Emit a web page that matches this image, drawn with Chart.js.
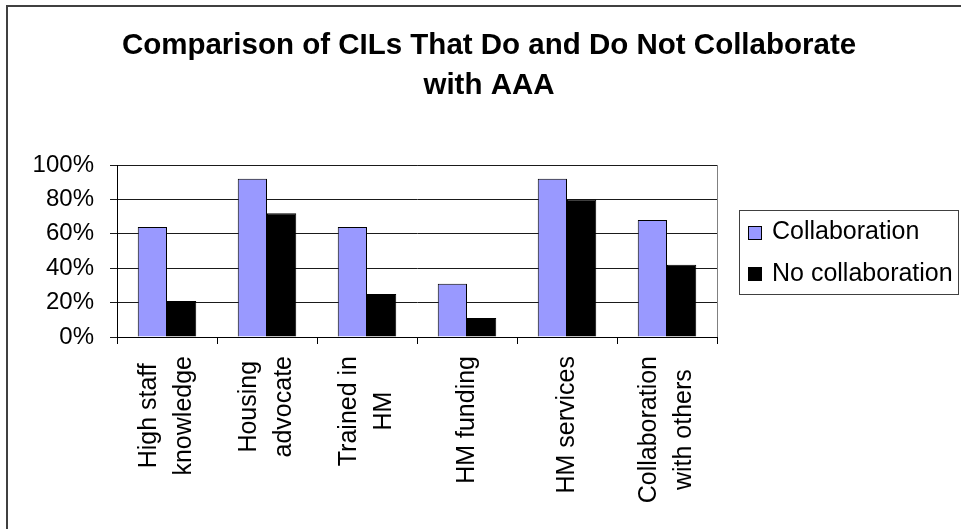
<!DOCTYPE html>
<html>
<head>
<meta charset="utf-8">
<script src="https://cdn.jsdelivr.net/npm/chart.js@4.4.1/dist/chart.umd.min.js"></script>
<style>
  html, body { margin: 0; padding: 0; background: #fff; overflow: hidden; }
  #wrap { width: 961px; height: 529px; position: relative; }
</style>
</head>
<body>
<div id="wrap"><canvas id="c" width="961" height="529"></canvas></div>
<script>
// Categories (multi-line labels) and the two series, in percent
const categories = [
  ["High staff", "knowledge"],
  ["Housing", "advocate"],
  ["Trained in", "HM"],
  ["HM funding"],
  ["HM services"],
  ["Collaboration", "with others"]
];
const seriesNames = ["Collaboration", "No collaboration"];
const collaboration = [64, 92, 64, 31, 92, 68];
const noCollaboration = [21, 72, 25, 11, 80, 42];
const yTicks = [0, 20, 40, 60, 80, 100];
const titleLines = ["Comparison of CILs That Do and Do Not Collaborate", "with AAA"];

const FONT = '"Liberation Sans", Arial, Helvetica, sans-serif';
const seriesColors = ["#9999FF", "#000000"];

// Outer frame and plot-area outline, drawn underneath everything else
const framePlugin = {
  id: 'frame',
  beforeDraw(chart) {
    const ctx = chart.ctx;
    const a = chart.chartArea;
    ctx.save();
    ctx.fillStyle = '#ffffff';
    ctx.fillRect(0, 0, chart.width, chart.height);
    ctx.strokeStyle = '#404040';
    ctx.lineWidth = 2;
    ctx.strokeRect(7, 6, chart.width + 20, chart.height + 20);
    ctx.strokeStyle = '#808080';
    ctx.lineWidth = 1;
    ctx.strokeRect(Math.round(a.left) + 0.5, Math.round(a.top) + 0.5,
                   Math.round(a.right - a.left), Math.round(a.bottom - a.top));
    ctx.restore();
  }
};

// Two-line bold title
const titlePlugin = {
  id: 'twoLineTitle',
  afterDraw(chart) {
    const ctx = chart.ctx;
    ctx.save();
    ctx.fillStyle = '#000';
    ctx.font = 'bold 29.5px ' + FONT;
    ctx.textAlign = 'center';
    ctx.textBaseline = 'alphabetic';
    const cx = 489;
    ctx.fillText(titleLines[0], cx, 54);
    ctx.fillText(titleLines[1], cx, 94);
    ctx.restore();
  }
};

// Vertical category labels with centred lines, hung below the axis
const catLabelPlugin = {
  id: 'catLabels',
  afterDraw(chart) {
    const ctx = chart.ctx;
    const xs = chart.scales.x;
    const top = chart.chartArea.bottom + 19;
    const lineGap = 35;
    ctx.save();
    ctx.fillStyle = '#000';
    ctx.font = '25px ' + FONT;
    ctx.textAlign = 'center';
    ctx.textBaseline = 'middle';
    categories.forEach((lines, i) => {
      const cx = xs.getPixelForValue(i);
      const L = Math.max(...lines.map(t => ctx.measureText(t).width));
      ctx.save();
      ctx.translate(cx, top);
      ctx.rotate(-Math.PI / 2);
      lines.forEach((t, k) => {
        const off = (k - (lines.length - 1) / 2) * lineGap;
        ctx.fillText(t, -L / 2, off);
      });
      ctx.restore();
    });
    ctx.restore();
  }
};

// Boxed legend to the right of the plot
const legendBoxPlugin = {
  id: 'legendBox',
  afterDraw(chart) {
    const ctx = chart.ctx;
    const box = { x: 739, y: 210, w: 219, h: 84 };
    ctx.save();
    ctx.strokeStyle = '#404040';
    ctx.lineWidth = 1;
    ctx.strokeRect(box.x + 0.5, box.y + 0.5, box.w, box.h);
    ctx.font = '25px ' + FONT;
    ctx.textAlign = 'left';
    ctx.textBaseline = 'alphabetic';
    chart.data.datasets.forEach((ds, i) => {
      const cy = 233 + i * 41;
      ctx.fillStyle = ds.backgroundColor;
      ctx.fillRect(748.5, cy - 6.5, 13, 13);
      ctx.strokeStyle = '#000';
      ctx.strokeRect(748.5, cy - 6.5, 13, 13);
      ctx.fillStyle = '#000';
      ctx.fillText(ds.label, 772, 239 + i * 42);
    });
    ctx.restore();
  }
};

new Chart(document.getElementById('c'), {
  type: 'bar',
  data: {
    labels: categories,
    datasets: [
      { label: seriesNames[0], data: collaboration, backgroundColor: seriesColors[0],
        borderColor: '#000', borderWidth: 1, categoryPercentage: 0.585, barPercentage: 1.0 },
      { label: seriesNames[1], data: noCollaboration, backgroundColor: seriesColors[1],
        borderColor: '#000', borderWidth: 1, categoryPercentage: 0.585, barPercentage: 1.0 }
    ]
  },
  options: {
    responsive: false,
    animation: false,
    devicePixelRatio: 1,
    layout: { padding: { top: 165, right: 244, bottom: 0, left: 0 } },
    plugins: {
      legend: { display: false },
      title: { display: false },
      tooltip: { enabled: false }
    },
    scales: {
      x: {
        type: 'category',
        offset: true,
        grid: { display: true, drawOnChartArea: false, drawTicks: true, tickLength: 7,
                color: '#000', offset: true },
        border: { display: true, color: '#000', width: 1 },
        ticks: { color: 'rgba(0,0,0,0)', autoSkip: false, minRotation: 90, maxRotation: 90,
                 font: { family: FONT, size: 25 } },
        afterFit(s) { s.height = 192; }
      },
      y: {
        min: 0,
        max: 100,
        afterBuildTicks(s) { s.ticks = yTicks.map(v => ({ value: v })); },
        ticks: { color: '#000', padding: 16, font: { family: FONT, size: 24 },
                 callback: v => v + '%' },
        grid: { color: '#1a1a1a', drawTicks: true, tickLength: 7 },
        border: { display: true, color: '#000', width: 1 },
        afterFit(s) { s.width = 117; }
      }
    }
  },
  plugins: [framePlugin, titlePlugin, catLabelPlugin, legendBoxPlugin]
});
</script>
</body>
</html>
